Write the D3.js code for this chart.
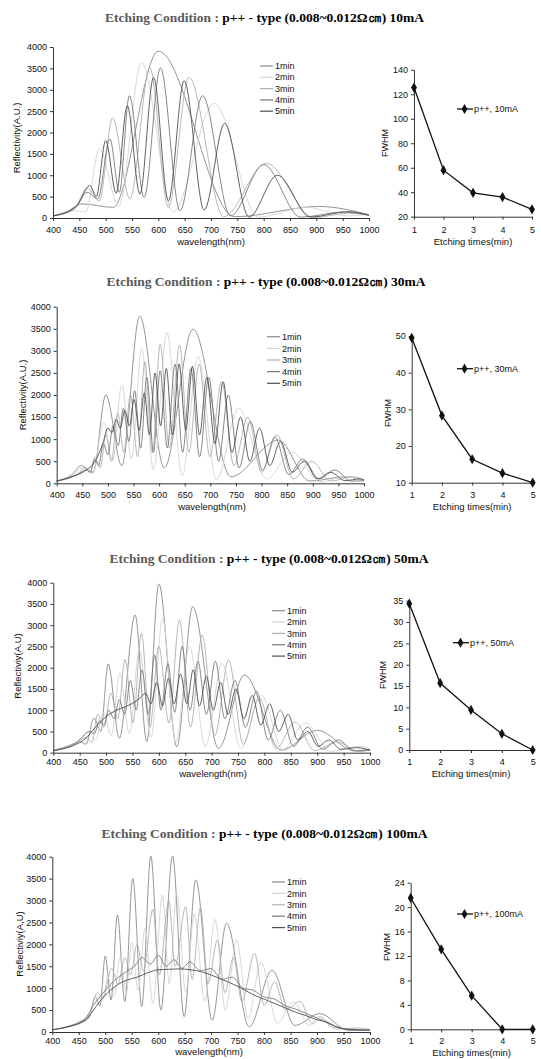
<!DOCTYPE html>
<html>
<head>
<meta charset="utf-8">
<script src="https://cdn.jsdelivr.net/npm/d3@7"></script>
<style>
body { margin: 0; background: #fff; }
svg text { font-family: "Liberation Sans", Arial, sans-serif; }
</style>
</head>
<body>
<svg id="chart" width="541" height="1059"></svg>
<script>
// ---- data ----
var wlTicks = [400, 450, 500, 550, 600, 650, 700, 750, 800, 850, 900, 950, 1000];
var reflTicks = [0, 500, 1000, 1500, 2000, 2500, 3000, 3500, 4000];
var seriesNames = ["1min", "2min", "3min", "4min", "5min"];
var currents = ["10mA", "30mA", "50mA", "100mA"];
var etchTimes = [1, 2, 3, 4, 5];

// spectra: [wavelength, reflectivity] at the turning points of each trace
// 10mA
var p10_1 = [[400,50],[420,100],[455,330],[514,250],[600,3900],[745,30],[905,270],[1000,80]];
var p10_2 = [[400,50],[440,170],[462,140],[488,1615],[525,280],[568,3640],[628,140],[706,2680],[790,20],[880,250],[960,50],[1000,90]];
var p10_3 = [[400,50],[440,200],[465,700],[488,400],[513,2340],[546,450],[584,3510],[619,250],[658,3290],[724,30],[805,1280],[895,10],[960,110],[1000,80]];
var p10_4 = [[400,50],[440,220],[465,600],[485,450],[508,1850],[526,600],[545,2860],[573,480],[604,3510],[641,170],[684,2860],[737,50],[800,1250],[870,20],[952,140],[1000,60]];
var p10_5 = [[400,50],[445,280],[470,760],[482,500],[500,1810],[520,580],[541,2630],[565,560],[591,3290],[619,400],[649,3210],[687,190],[726,2215],[772,20],[826,1000],[889,20],[960,150],[1000,60]];
// 30mA
var p30_1 = [[400,50],[430,200],[448,400],[471,250],[496,2000],[527,400],[562,3790],[610,350],[666,3490],[740,150],[833,980],[894,50],[965,150],[1000,60]];
var p30_2 = [[400,50],[430,180],[450,350],[470,220],[492,1380],[509,500],[527,2230],[546,550],[566,3060],[589,300],[615,3420],[645,170],[676,2870],[712,80],[755,1700],[810,100],[860,700],[915,30],[965,150],[1000,50]];
var p30_3 = [[400,50],[440,200],[455,350],[465,250],[475,600],[485,350],[496,1100],[507,500],[519,1600],[531,700],[544,2000],[558,600],[572,2750],[587,700],[602,3150],[620,800],[640,3130],[658,700],[678,2700],[699,600],[722,2300],[746,400],[773,1500],[800,250],[830,1100],[862,100],[898,500],[935,50],[977,150],[1000,70]];
var p30_4 = [[400,50],[440,200],[458,300],[466,250],[474,550],[482,400],[491,900],[500,650],[510,1300],[520,850],[530,1700],[541,950],[552,2100],[564,800],[576,2400],[589,700],[602,2550],[616,800],[631,2700],[646,700],[662,2600],[679,600],[697,2400],[716,500],[735,2000],[756,350],[778,1400],[802,300],[826,1050],[853,200],[881,550],[912,100],[943,300],[975,50],[1000,60]];
var p30_5 = [[400,50],[430,150],[455,280],[475,500],[490,900],[500,1250],[508,1150],[516,1450],[524,1250],[533,1650],[542,1300],[551,1900],[561,1200],[571,2050],[581,1100],[592,2500],[603,1300],[614,2600],[626,1100],[639,2700],[652,1200],[665,2650],[679,1100],[693,2400],[709,900],[725,2300],[742,700],[759,1500],[777,500],[796,1250],[816,400],[837,950],[860,250],[883,500],[909,100],[935,250],[963,60],[992,100],[1000,80]];
// 50mA
var p50_1 = [[400,50],[430,160],[450,260],[462,200],[477,810],[490,500],[504,2090],[525,340],[555,3240],[577,260],[600,3970],[634,140],[664,3435],[713,100],[762,1830],[832,60],[900,530],[970,50],[1000,80]];
var p50_2 = [[400,50],[430,170],[450,280],[467,500],[480,300],[495,950],[510,400],[526,1870],[544,450],[563,2410],[585,350],[607,3160],[632,250],[658,2500],[688,150],[720,2100],[755,100],[794,1350],[835,80],[877,700],[925,30],[980,150],[1000,100]];
var p50_3 = [[400,50],[440,220],[462,350],[473,250],[484,900],[496,600],[509,1400],[522,800],[536,2200],[551,700],[567,2810],[583,600],[600,2500],[619,700],[639,3120],[660,600],[682,2770],[706,400],[732,2180],[760,200],[790,1300],[822,100],[858,720],[895,50],[938,250],[980,30],[1000,60]];
var p50_4 = [[400,50],[440,200],[470,500],[478,450],[487,750],[496,650],[505,1000],[515,800],[525,1250],[535,900],[546,1700],[557,1000],[568,1950],[580,900],[592,2300],[604,1000],[617,2100],[630,950],[644,2500],[659,1000],[674,2150],[690,900],[707,2150],[725,800],[744,1700],[764,600],[785,1450],[807,300],[830,1000],[855,150],[882,600],[910,80],[940,300],[970,40],[1000,60]];
var p50_5 = [[400,50],[440,180],[460,320],[480,600],[500,850],[520,1000],[540,1100],[555,1200],[565,1300],[575,1400],[585,1150],[596,1650],[607,1100],[618,1750],[629,1150],[641,1850],[653,1150],[665,1950],[677,1100],[690,1800],[703,1000],[717,1650],[731,900],[746,1500],[761,800],[777,1350],[793,650],[810,1150],[827,500],[845,900],[863,300],[882,500],[902,150],[922,300],[945,80],[975,120],[1000,60]];
// 100mA
var p100_1 = [[400,50],[450,200],[470,330],[481,800],[490,600],[500,1734],[511,730],[523,2670],[537,690],[552,3506],[569,580],[586,4015],[605,500],[627,4015],[649,350],[671,3470],[702,270],[729,2480],[772,120],[815,1410],[858,150],[905,420],[960,30],[1000,60]];
var p100_2 = [[400,50],[450,220],[470,380],[483,830],[494,700],[505,1250],[516,800],[528,1700],[540,900],[550,2050],[562,950],[575,2365],[590,650],[608,3125],[621,1100],[635,3160],[652,900],[668,2700],[688,700],[707,2570],[727,500],[748,2100],[770,300],[794,1600],[825,200],[855,690],[885,150],[910,300],[940,50],[975,100],[1000,60]];
var p100_3 = [[400,50],[450,230],[470,400],[485,900],[496,800],[512,1450],[524,1100],[537,1700],[548,1300],[560,2000],[572,1400],[590,2800],[602,1300],[620,3000],[632,1500],[652,2860],[664,1200],[680,2850],[694,1100],[712,2100],[726,900],[742,1700],[758,700],[782,1800],[800,600],[820,1150],[840,500],[868,700],[890,200],[905,350],[930,100],[1000,60]];
var p100_4 = [[400,50],[430,130],[460,280],[480,650],[500,950],[520,1200],[540,1380],[555,1500],[570,1700],[585,1550],[600,1750],[615,1500],[630,1650],[645,1450],[660,1600],[680,1400],[700,1450],[720,1200],[740,1250],[760,1000],[780,950],[800,800],[820,750],[840,600],[860,520],[880,420],[900,320],[930,150],[960,60],[1000,40]];
var p100_5 = [[400,50],[430,120],[460,250],[475,450],[490,700],[505,900],[520,1050],[540,1180],[560,1250],[580,1350],[600,1420],[620,1430],[640,1440],[660,1420],[680,1380],[700,1300],[720,1200],[740,1100],[760,980],[780,850],[800,750],[820,650],[840,550],[860,450],[880,370],[900,280],[920,220],[940,100],[960,60],[1000,40]];

// FWHM vs etching time
var fw10 = [125.5, 58, 39.5, 36, 26];
var fw30 = [49.5, 28.3, 16.4, 12.6, 10];
var fw50 = [34.3, 15.7, 9.4, 3.8, 0];
var fw100 = [21.5, 13.1, 5.5, 0, 0];
var fwTicks10 = [20, 40, 60, 80, 100, 120, 140];
var fwTicks30 = [10, 20, 30, 40, 50];
var fwTicks50 = [0, 5, 10, 15, 20, 25, 30, 35];
var fwTicks100 = [0, 4, 8, 12, 16, 20, 24];

// ---- layout ----
var lineColors = ["#8a8a8a", "#d4d4d4", "#b0b0b0", "#7a7a7a", "#4e4e4e"];

var panels = [
    { cur: currents[0], tx: 264.5, ty: 22, sp: [p10_1, p10_2, p10_3, p10_4, p10_5], ylab: "Reflectivity(A.U.)",
      L: { x0: 53, x1: 369, yb: 218, yt: 47, ylx: 17, yly: 138, xlx: 211, xly: 245, lab: 231, legx: 260, legy: 66, legdy: 11.3 },
      fw: fw10, fwTicks: fwTicks10,
      R: { x0: 414, x1: 532, yb: 216.7, yt: 69.8, ylx: 385, yly: 143, xly: 245, lab: 231, legx: 457, legy: 109 } },
    { cur: currents[1], tx: 266, ty: 286, sp: [p30_1, p30_2, p30_3, p30_4, p30_5], ylab: "Reflectivity(A.U.)",
      L: { x0: 56.7, x1: 364, yb: 483.3, yt: 306.7, ylx: 23, yly: 395, xlx: 212, xly: 510, lab: 496, legx: 267, legy: 336.7, legdy: 11.65 },
      fw: fw30, fwTicks: fwTicks30,
      R: { x0: 411.7, x1: 532.7, yb: 482.7, yt: 336, ylx: 388, yly: 413, xly: 510, lab: 496, legx: 457, legy: 368.7 } },
    { cur: currents[2], tx: 269, ty: 563, sp: [p50_1, p50_2, p50_3, p50_4, p50_5], ylab: "Reflectiviy(A.U)",
      L: { x0: 53.3, x1: 370, yb: 752.7, yt: 582.7, ylx: 17.5, yly: 666, xlx: 213, xly: 777, lab: 763, legx: 272, legy: 610.7, legdy: 11.35 },
      fw: fw50, fwTicks: fwTicks50,
      R: { x0: 409.3, x1: 532.7, yb: 750, yt: 600.7, ylx: 383, yly: 675, xly: 777, lab: 763, legx: 453, legy: 642.7 } },
    { cur: currents[3], tx: 264.5, ty: 838, sp: [p100_1, p100_2, p100_3, p100_4, p100_5], ylab: "Reflectiviy(A,U)",
      L: { x0: 52.3, x1: 370, yb: 1032, yt: 856.7, ylx: 20, yly: 944, xlx: 209, xly: 1055, lab: 1042, legx: 272, legy: 882, legdy: 11.4 },
      fw: fw100, fwTicks: fwTicks100,
      R: { x0: 410.7, x1: 532.7, yb: 1029.3, yt: 882.7, ylx: 387, yly: 947, xly: 1056, lab: 1042, legx: 457, legy: 914 } }
];

var svg = d3.select("#chart");
var fmt = d3.format("d");

function style_axis(ax) {
    ax.attr("font-family", null).attr("font-size", null);
    ax.select(".domain").attr("stroke", "#333").attr("stroke-width", 1);
    ax.selectAll(".tick line").attr("stroke", "#333");
    ax.selectAll(".tick text").style("font-size", "9px").style("fill", "#111");
}

function draw_title(p) {
    var t = svg.append("text").attr("x", p.tx).attr("y", p.ty).attr("text-anchor", "middle")
        .style("font-family", "'Liberation Serif','Times New Roman',serif")
        .style("font-weight", "bold").style("font-size", "13.5px");
    t.append("tspan").attr("fill", "#5a5a5a").text("Etching Condition : ");
    t.append("tspan").attr("fill", "#000").text("p++ - type (0.008~0.012Ω㎝) " + p.cur);
}

function draw_spectrum(p) {
    var L = p.L;
    var x = d3.scaleLinear().domain([400, 1000]).range([L.x0, L.x1]);
    var y = d3.scaleLinear().domain([0, 4000]).range([L.yb, L.yt]);
    var g = svg.append("g");

    var line = d3.line()
        .x(function (d) { return x(d[0]); })
        .y(function (d) { return y(d[1]); })
        .curve(d3.curveMonotoneX);

    p.sp.forEach(function (s, i) {
        g.append("path").datum(s).attr("d", line)
            .attr("fill", "none").attr("stroke", lineColors[i]).attr("stroke-width", 0.9);
    });

    var xa = g.append("g").attr("transform", "translate(0," + L.yb + ")")
        .call(d3.axisBottom(x).tickValues(wlTicks).tickFormat(fmt).tickSize(3).tickSizeOuter(0).tickPadding(L.lab - L.yb - 7));
    style_axis(xa);
    var ya = g.append("g").attr("transform", "translate(" + L.x0 + ",0)")
        .call(d3.axisLeft(y).tickValues(reflTicks).tickFormat(fmt).tickSize(3).tickSizeOuter(0).tickPadding(3));
    style_axis(ya);

    g.append("text").attr("x", L.xlx).attr("y", L.xly).attr("text-anchor", "middle")
        .style("font-size", "9.5px").style("fill", "#111").text("wavelength(nm)");
    g.append("text").attr("transform", "translate(" + L.ylx + "," + L.yly + ") rotate(-90)")
        .attr("text-anchor", "middle").attr("dy", "0.35em")
        .style("font-size", "9.5px").style("fill", "#111").text(p.ylab);

    // legend
    var leg = g.append("g");
    seriesNames.forEach(function (n, i) {
        var yy = L.legy + i * L.legdy;
        leg.append("line").attr("x1", L.legx).attr("x2", L.legx + 13).attr("y1", yy).attr("y2", yy)
            .attr("stroke", lineColors[i]).attr("stroke-width", 1.2);
        leg.append("text").attr("x", L.legx + 15).attr("y", yy).attr("dy", "0.35em")
            .style("font-size", "9px").style("fill", "#111").text(n);
    });
}

function draw_fwhm(p) {
    var R = p.R;
    var ext = d3.extent(p.fwTicks);
    var x = d3.scaleLinear().domain([1, 5]).range([R.x0, R.x1]);
    var y = d3.scaleLinear().domain(ext).range([R.yb, R.yt]);
    var g = svg.append("g");

    var xa = g.append("g").attr("transform", "translate(0," + R.yb + ")")
        .call(d3.axisBottom(x).tickValues(etchTimes).tickFormat(fmt).tickSize(3).tickSizeOuter(0).tickPadding(R.lab - R.yb - 7));
    style_axis(xa);
    var ya = g.append("g").attr("transform", "translate(" + R.x0 + ",0)")
        .call(d3.axisLeft(y).tickValues(p.fwTicks).tickFormat(fmt).tickSize(3).tickSizeOuter(0).tickPadding(3));
    style_axis(ya);

    var line = d3.line()
        .x(function (d, i) { return x(etchTimes[i]); })
        .y(function (d) { return y(d); });
    g.append("path").datum(p.fw).attr("d", line)
        .attr("fill", "none").attr("stroke", "#111").attr("stroke-width", 1.3);

    var sym = d3.symbol().type(d3.symbolDiamond).size(30);
    g.selectAll(".pt").data(p.fw).enter().append("path")
        .attr("transform", function (d, i) { return "translate(" + x(etchTimes[i]) + "," + y(d) + ")"; })
        .attr("d", sym).attr("fill", "#111");

    g.append("text").attr("x", (R.x0 + R.x1) / 2).attr("y", R.xly).attr("text-anchor", "middle")
        .style("font-size", "9.5px").style("fill", "#111").text("Etching times(min)");
    g.append("text").attr("transform", "translate(" + R.ylx + "," + R.yly + ") rotate(-90)")
        .attr("text-anchor", "middle").attr("dy", "0.35em")
        .style("font-size", "9px").style("fill", "#111").text("FWHM");

    // legend
    g.append("line").attr("x1", R.legx).attr("x2", R.legx + 16).attr("y1", R.legy).attr("y2", R.legy)
        .attr("stroke", "#111").attr("stroke-width", 1.3);
    g.append("path").attr("transform", "translate(" + (R.legx + 7.5) + "," + R.legy + ")")
        .attr("d", sym).attr("fill", "#111");
    g.append("text").attr("x", R.legx + 17).attr("y", R.legy).attr("dy", "0.35em")
        .style("font-size", "9px").style("fill", "#111").text("p++, " + p.cur);
}

panels.forEach(function (p) {
    draw_title(p);
    draw_spectrum(p);
    draw_fwhm(p);
});
</script>
</body>
</html>
